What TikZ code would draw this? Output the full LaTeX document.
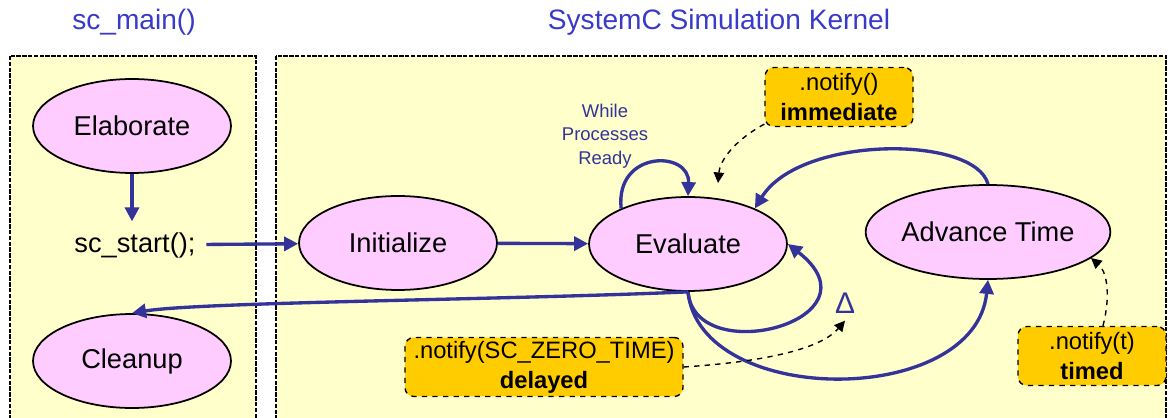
\documentclass[tikz,border=0pt]{standalone}
\usepackage{fontspec}
\setmainfont{Liberation Sans}
\usetikzlibrary{arrows.meta,shapes.geometric}

\definecolor{kernelblue}{RGB}{51,51,153}
\definecolor{titleblue}{RGB}{58,58,200}
\definecolor{panelyellow}{RGB}{255,255,204}
\definecolor{statepink}{RGB}{255,204,255}
\definecolor{notegold}{RGB}{255,204,0}

\tikzset{
    panel/.style={
        fill=panelyellow,draw,line width=1.3pt,
        dash pattern=on 2.5pt off .8pt
    },
    state/.style={
        ellipse,draw,line width=1pt,
        fill=statepink,inner sep=0pt,
        minimum width=3.96cm,minimum height=1.88cm,
        font=\fontsize{15.5}{18}\selectfont
    },
    note/.style={
        draw,thick,dashed,rounded corners=5pt,
        fill=notegold,align=center,inner sep=0pt,
        minimum height=1.18cm,
        font=\fontsize{13.5}{17}\selectfont
    },
    flow/.style={kernelblue,line width=1.9pt,-{Triangle[length=8pt,width=8pt]}},
    hint/.style={thick,dashed,-{Triangle[length=6pt,width=6pt]}}
}

\begin{document}
\begin{tikzpicture}[x=0.02cm,y=-0.02cm]
        \useasboundingbox[fill=white] (0,0) rectangle (1172,418);
        % the two areas
        \draw[panel] (10,56) rectangle (256,430);
        \draw[panel] (276,56) rectangle (1166,430);
        \node[titleblue,font=\fontsize{16}{19}\selectfont] (maintitle) at (134,22) {sc\_main()};
        \node[titleblue,font=\fontsize{16}{19}\selectfont] (kerneltitle) at (719,22) {SystemC Simulation Kernel};
        % states
        \foreach \name/\x/\y/\txt in {elab/132/126/Elaborate,clean/132/361/Cleanup,
            init/398/243/Initialize,eval/688/244/Evaluate,adv/988/232/Advance Time}
            \node[state] (\name) at (\x,\y) {\txt};
        \node[inner sep=6pt,font=\fontsize{15.5}{18}\selectfont] (start) at (135,245) {sc\_start();};
        \node[kernelblue,inner sep=4pt,font=\fontsize{17}{19}\selectfont] (delta) at (845,303) {Δ};
        \node[kernelblue,align=center,font=\fontsize{10.5}{13.5}\selectfont] (ready) at (605,136) {While\\Processes\\Ready};
        % notes
        \node[note,minimum width=2.96cm] (imm) at (839,97) {.notify()\\\textbf{immediate}};
        \node[note,minimum width=5.56cm] (del) at (544,367) {.notify(SC\_ZERO\_TIME)\\\textbf{delayed}};
        \node[note,minimum width=2.96cm] (timed) at (1092,356) {.notify(t)\\\textbf{timed}};
        \coordinate (immtip) at (718,183);
        \coordinate (advtip) at (1091,258);
        % transitions
        \draw[flow] (elab.south) -- (elab.south |- start.north);
        \draw[flow] (start) -- (init);
        \draw[flow] (init) -- (eval);
        \draw[flow] (eval.152) .. controls (615,150) and (690,150) .. (eval.90);
        \draw[flow] (adv.north) .. controls (975,135) and (800,135) .. (eval.28);
        \draw[flow] (eval.south) .. controls (695,370) and (885,320) .. (eval.east);
        \draw[flow] (eval.south) .. controls (700,408) and (975,408) .. (adv.south);
        \draw[flow] (eval.south) .. controls (500,300) and (200,302) .. (clean.north);
        % notifications
        \draw[hint] (imm.200) .. controls (735,140) and (720,160) .. (immtip);
        \draw[hint] (del.east) .. controls (760,362) and (820,350) .. (delta.south);
        \draw[hint] (timed.70) .. controls (1112,290) and (1105,270) .. (advtip);
    \end{tikzpicture}
\end{document}
